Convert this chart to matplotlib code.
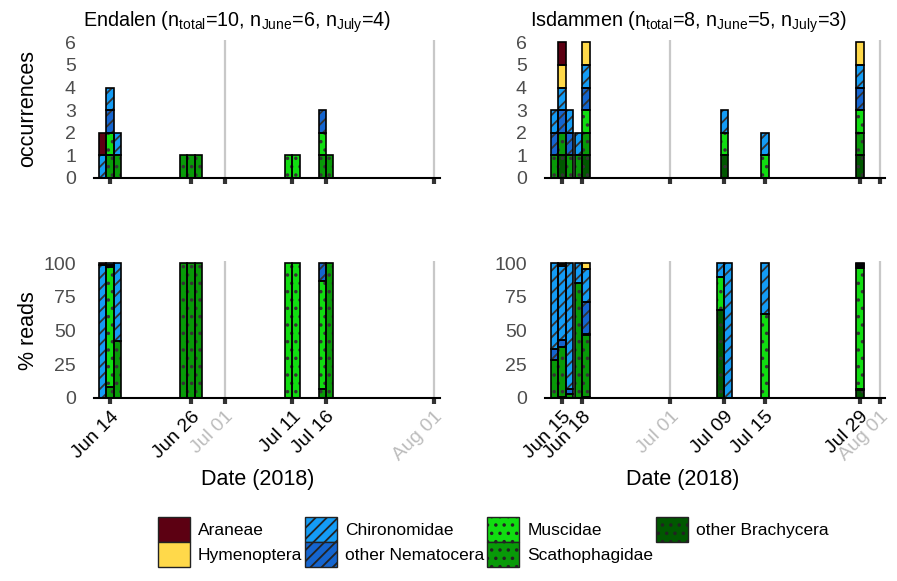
import matplotlib
matplotlib.use("Agg")
import matplotlib.pyplot as plt
import matplotlib.dates as mdates
from matplotlib.patches import Patch
from collections import defaultdict
from datetime import datetime

plt.rcParams['font.family'] = ['Liberation Sans', 'DejaVu Sans']
plt.rcParams['mathtext.fontset'] = 'custom'
plt.rcParams['mathtext.rm'] = 'Liberation Sans'
plt.rcParams['hatch.linewidth'] = 1.3

# taxa in legend order (stacking goes the other way round, bottom = last)
TAXA = ["Araneae", "Hymenoptera", "Chironomidae", "other Nematocera",
        "Muscidae", "Scathophagidae", "other Brachycera"]
COLORS = ["#5c0012", "#ffd94a", "#149cf5", "#1565cf", "#11dd11", "#089a08", "#005800"]
HATCHES = ["", "", "///", "///", "..", "..", ".."]

# ---- Endalen ----
END_OCC_DATES = ["2018-06-14"] * 3 + ["2018-06-26"] * 3 + ["2018-07-11"] * 2 + ["2018-07-16"] * 2
END_OCC = [
    [1, 0, 1, 0, 0, 0, 0],
    [0, 0, 1, 1, 1, 1, 0],
    [0, 0, 1, 0, 0, 1, 0],
    [0, 0, 0, 0, 0, 1, 0],
    [0, 0, 0, 0, 0, 1, 0],
    [0, 0, 0, 0, 0, 1, 0],
    [0, 0, 0, 0, 1, 0, 0],
    [0, 0, 0, 0, 1, 0, 0],
    [0, 0, 0, 1, 1, 1, 0],
    [0, 0, 0, 0, 0, 1, 0],
]
END_READ_DATES = END_OCC_DATES
END_READS = [
    [1.5, 0, 98.5, 0, 0, 0, 0],
    [0, 0, 1.5, 1.5, 89, 8, 0],
    [0, 0, 58, 0, 0, 42, 0],
    [0, 0, 0, 0, 0, 100, 0],
    [0, 0, 0, 0, 0, 100, 0],
    [0, 0, 0, 0, 0, 100, 0],
    [0, 0, 0, 0, 100, 0, 0],
    [0, 0, 0, 0, 100, 0, 0],
    [0, 0, 0, 13, 80, 7, 0],
    [0, 0, 0, 0, 0, 100, 0],
]
END_TICKS = ["2018-06-14", "2018-06-26", "2018-07-01", "2018-07-11", "2018-07-16", "2018-08-01"]

# ---- Isdammen ----
ISD_OCC_DATES = ["2018-06-15"] * 3 + ["2018-06-18"] * 2 + ["2018-07-09", "2018-07-15", "2018-07-29"]
ISD_OCC = [
    [0, 0, 1, 1, 0, 1, 0],
    [1, 1, 1, 1, 0, 1, 1],
    [0, 0, 1, 1, 0, 1, 0],
    [0, 0, 1, 0, 0, 1, 0],
    [0, 1, 1, 1, 1, 1, 1],
    [0, 0, 1, 0, 1, 0, 1],
    [0, 0, 1, 0, 1, 0, 0],
    [0, 1, 1, 1, 1, 1, 1],
]
ISD_READ_DATES = ["2018-06-15"] * 3 + ["2018-06-18"] * 2 + ["2018-07-09"] * 2 + ["2018-07-15", "2018-07-29"]
ISD_READS = [
    [0, 0, 64, 8, 0, 28, 0],
    [1, 1, 55, 5, 0, 37, 1],
    [0, 0, 93, 4, 0, 3, 0],
    [0, 0, 15, 0, 0, 85, 0],
    [0, 4.5, 24.5, 23.4, 0.6, 46, 1],
    [0, 0, 10, 0, 25, 0, 65],
    [0, 0, 100, 0, 0, 0, 0],
    [0, 0, 38, 0, 62, 0, 0],
    [0, 1, 1.5, 1.5, 89.4, 0.6, 6],
]
ISD_TICKS = ["2018-06-15", "2018-06-18", "2018-07-01", "2018-07-09", "2018-07-15",
             "2018-07-29", "2018-08-01"]

MONTH_LINES = ["2018-07-01", "2018-08-01"]
BAR_W = 1.1  # days


def num(d):
    return mdates.date2num(datetime.strptime(d, "%Y-%m-%d"))


def draw_stacks(ax, dates, values):
    groups = defaultdict(list)
    for i, d in enumerate(dates):
        groups[d].append(i)
    for d, idx in groups.items():
        n = len(idx)
        for k, i in enumerate(idx):
            x = num(d) + (k - (n - 1) / 2) * BAR_W
            bottom = 0.0
            for t in reversed(range(len(TAXA))):
                h = values[i][t]
                if h <= 0:
                    continue
                ax.bar(x, h, BAR_W, bottom=bottom, color=COLORS[t], hatch=HATCHES[t],
                       edgecolor="#333333", linewidth=0, zorder=2)
                ax.bar(x, h, BAR_W, bottom=bottom, fill=False, edgecolor="black",
                       linewidth=1.2, zorder=3)
                bottom += h


def style(ax, ticks, first, span, ylim, yticks, labels):
    ax.set_xlim(num(first) - span[0], num(first) + span[1])
    ax.set_ylim(0, ylim)
    ax.set_yticks(yticks)
    for s in ["left", "right", "top"]:
        ax.spines[s].set_visible(False)
    ax.spines["bottom"].set_linewidth(1.5)
    for d in MONTH_LINES:
        ax.axvline(num(d), color="#c8c8c8", lw=1.6, zorder=0)
    ax.set_xticks([num(t) for t in ticks])
    ax.tick_params(axis="x", length=4, width=3, color="#333333")
    ax.tick_params(axis="y", length=0, pad=13, labelsize=14, labelcolor="#4d4d4d")
    if labels:
        lbls = [datetime.strptime(t, "%Y-%m-%d").strftime("%b %d") for t in ticks]
        ax.set_xticklabels(lbls, rotation=45, ha="right", va="top",
                           rotation_mode="anchor", fontsize=14)
        for t, lab in zip(ticks, ax.get_xticklabels()):
            lab.set_color("#bdbdbd" if t in MONTH_LINES else "black")
    else:
        ax.set_xticklabels([])


W, H = 897, 581
fig = plt.figure(figsize=(W / 100, H / 100), dpi=100)


def add_ax(l, r, b, t):
    return fig.add_axes([l / W, 1 - b / H, (r - l) / W, (b - t) / H])


ax_eo = add_ax(94, 440, 178, 40)
ax_er = add_ax(94, 440, 398, 261)
ax_io = add_ax(545, 885, 178, 40)
ax_ir = add_ax(545, 885, 398, 261)

draw_stacks(ax_eo, END_OCC_DATES, END_OCC)
draw_stacks(ax_er, END_READ_DATES, END_READS)
draw_stacks(ax_io, ISD_OCC_DATES, ISD_OCC)
draw_stacks(ax_ir, ISD_READ_DATES, ISD_READS)

style(ax_eo, END_TICKS, "2018-06-14", (2.4, 48.9), 6.1, range(7), False)
style(ax_er, END_TICKS, "2018-06-14", (2.4, 48.9), 101.5, [0, 25, 50, 75, 100], True)
style(ax_io, ISD_TICKS, "2018-06-15", (2.5, 47.7), 6.1, range(7), False)
style(ax_ir, ISD_TICKS, "2018-06-15", (2.5, 47.7), 101.5, [0, 25, 50, 75, 100], True)

fig.text(83 / W, 1 - 22 / H,
         r"Endalen (n$_\mathrm{total}$=10, n$_\mathrm{June}$=6, n$_\mathrm{July}$=4)",
         fontsize=14.2, va="center", ha="left")
fig.text(530 / W, 1 - 22 / H,
         r"Isdammen (n$_\mathrm{total}$=8, n$_\mathrm{June}$=5, n$_\mathrm{July}$=3)",
         fontsize=14.2, va="center", ha="left")
fig.text(28 / W, 1 - 108 / H, "occurrences", rotation=90, fontsize=15.5, va="center", ha="center")
fig.text(28 / W, 1 - 331 / H, "% reads", rotation=90, fontsize=15.5, va="center", ha="center")
fig.text(258 / W, 1 - 480 / H, "Date (2018)", fontsize=15.5, va="center", ha="center")
fig.text(683 / W, 1 - 480 / H, "Date (2018)", fontsize=15.5, va="center", ha="center")

handles = [Patch(facecolor=c, edgecolor="#222222", hatch=h, linewidth=1.0)
           for c, h in zip(COLORS, HATCHES)]
fig.legend(handles, TAXA, ncol=4, loc="upper left",
           bbox_to_anchor=(158 / W, 1 - 517 / H), frameon=False, fontsize=12.5,
           handlelength=1.85, handleheight=1.85, labelspacing=0.0, handletextpad=0.46,
           columnspacing=0.15, borderpad=0, borderaxespad=0)

fig.savefig("out.png", dpi=100)
